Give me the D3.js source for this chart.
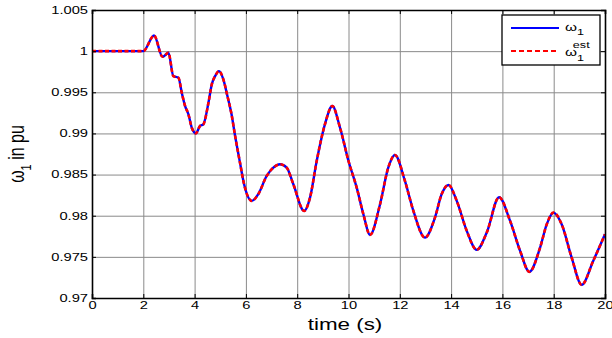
<!DOCTYPE html>
<html><head><meta charset="utf-8">
<script src="https://cdn.jsdelivr.net/npm/d3@7"></script>
<style>
html,body{margin:0;padding:0;background:#fff;}
svg{display:block;}
text{font-family:"Liberation Sans",Arial,sans-serif;fill:#000;}
</style></head>
<body>
<svg id="chart" width="612" height="338"></svg>
<script>
// ---- data ----
const time = [0, 2.0, 2.42, 2.75, 2.98, 3.17, 3.37, 3.5, 3.63, 3.76, 3.89, 4.05, 4.21, 4.34, 4.54, 4.67, 4.8, 4.95, 5.12, 5.28, 5.44, 5.58, 5.77, 5.93, 6.23, 6.48, 6.81, 7.07, 7.33, 7.59, 7.85, 8.27, 8.5, 8.76, 9.08, 9.37, 9.67, 10.0, 10.32, 10.58, 10.84, 11.23, 11.55, 11.81, 12.2, 12.53, 12.98, 13.37, 13.63, 13.9, 14.22, 14.61, 15.0, 15.39, 15.87, 16.3, 16.69, 17.05, 17.47, 17.73, 17.99, 18.31, 18.7, 19.09, 19.54, 20.0];
const omega1 = [1.0, 1.0, 1.0019, 0.99931, 0.9998, 0.99697, 0.99676, 0.99494, 0.99333, 0.99232, 0.99069, 0.99001, 0.9909, 0.9911, 0.99373, 0.99596, 0.99697, 0.99757, 0.99657, 0.99454, 0.99232, 0.98968, 0.98644, 0.98382, 0.9818, 0.98261, 0.98483, 0.98584, 0.98625, 0.98584, 0.98382, 0.98058, 0.9822, 0.98665, 0.9911, 0.99333, 0.99069, 0.98665, 0.98341, 0.98018, 0.97767, 0.9814, 0.98584, 0.98738, 0.98422, 0.98058, 0.97734, 0.97977, 0.98261, 0.98374, 0.9818, 0.97816, 0.97585, 0.97795, 0.98225, 0.97937, 0.97573, 0.97318, 0.97613, 0.97897, 0.98038, 0.97897, 0.97492, 0.9716, 0.97451, 0.97775];
const omega1Est = [1.0, 1.0, 1.0019, 0.99931, 0.9998, 0.99697, 0.99676, 0.99494, 0.99333, 0.99232, 0.99069, 0.99001, 0.9909, 0.9911, 0.99373, 0.99596, 0.99697, 0.99757, 0.99657, 0.99454, 0.99232, 0.98968, 0.98644, 0.98382, 0.9818, 0.98261, 0.98483, 0.98584, 0.98625, 0.98584, 0.98382, 0.98058, 0.9822, 0.98665, 0.9911, 0.99333, 0.99069, 0.98665, 0.98341, 0.98018, 0.97767, 0.9814, 0.98584, 0.98738, 0.98422, 0.98058, 0.97734, 0.97977, 0.98261, 0.98374, 0.9818, 0.97816, 0.97585, 0.97795, 0.98225, 0.97937, 0.97573, 0.97318, 0.97613, 0.97897, 0.98038, 0.97897, 0.97492, 0.9716, 0.97451, 0.97775];
const xTicks = [0, 2, 4, 6, 8, 10, 12, 14, 16, 18, 20];
const xTickLabels = ["0", "2", "4", "6", "8", "10", "12", "14", "16", "18", "20"];
const yTicks = [0.97, 0.975, 0.98, 0.985, 0.99, 0.995, 1.0, 1.005];
const yTickLabels = ["0.97", "0.975", "0.98", "0.985", "0.99", "0.995", "1", "1.005"];
const xLabel = "time (s)";

// ---- layout ----
const SX = 1.4; // horizontal text stretch seen in the reference
const L = 92, R = 605, T = 10, B = 298;
const svg = d3.select("#chart");
const x = d3.scaleLinear().domain([0, 20]).range([L, R]);
const y = d3.scaleLinear().domain([0.97, 1.005]).range([B, T]);

// grid
const grid = svg.append("g");
grid.append("g").attr("transform", `translate(0,${B})`)
  .call(d3.axisBottom(x).tickValues(xTicks).tickSize(-(B - T)).tickFormat(""))
  .call(g => g.select(".domain").remove())
  .selectAll("line").attr("stroke", "#8a8a8a").attr("stroke-width", 1);
grid.append("g").attr("transform", `translate(${L},0)`)
  .call(d3.axisLeft(y).tickValues(yTicks).tickSize(-(R - L)).tickFormat(""))
  .call(g => g.select(".domain").remove())
  .selectAll("line").attr("stroke", "#8a8a8a").attr("stroke-width", 1);

// lines
const pts1 = time.map((t, i) => [t, omega1[i]]);
const pts2 = time.map((t, i) => [t, omega1Est[i]]);
const line = d3.line().x(d => x(d[0])).y(d => y(d[1])).curve(d3.curveMonotoneX);
svg.append("path").attr("d", line(pts1)).attr("fill", "none")
  .attr("stroke", "#0000ff").attr("stroke-width", 2.4);
svg.append("path").attr("d", line(pts2)).attr("fill", "none")
  .attr("stroke", "#ff0000").attr("stroke-width", 2.6).attr("stroke-dasharray", "4,2.5");

// axes (inward ticks, box)
function stretchTexts(g) {
  g.selectAll("text").each(function () {
    const t = d3.select(this);
    const xx = +t.attr("x") || 0;
    t.attr("x", xx / SX).attr("transform", `scale(${SX},1)`);
  });
}
const axB = svg.append("g").attr("transform", `translate(0,${B})`)
  .call(d3.axisBottom(x).tickValues(xTicks).tickSize(-4).tickPadding(4)
    .tickFormat((d, i) => xTickLabels[i]));
const axL = svg.append("g").attr("transform", `translate(${L},0)`)
  .call(d3.axisLeft(y).tickValues(yTicks).tickSize(-4).tickPadding(4)
    .tickFormat((d, i) => yTickLabels[i]));
const axT = svg.append("g").attr("transform", `translate(0,${T})`)
  .call(d3.axisTop(x).tickValues(xTicks).tickSize(-4).tickFormat(""));
const axR = svg.append("g").attr("transform", `translate(${R},0)`)
  .call(d3.axisRight(y).tickValues(yTicks).tickSize(-4).tickFormat(""));
[axB, axL, axT, axR].forEach(g => {
  g.selectAll("text").style("font-family", '"Liberation Sans",Arial,sans-serif').style("font-size", "10.5px").attr("fill", "#000");
  g.selectAll("line").attr("stroke", "#000");
  g.select(".domain").attr("stroke", "#000").attr("stroke-width", 1.6);
});
stretchTexts(axB); stretchTexts(axL);

// axis labels
svg.append("text").attr("transform", `translate(345,330) scale(${SX},1)`)
  .attr("text-anchor", "middle").style("font-size", "16px").text(xLabel);
const yl = svg.append("text").attr("transform", `translate(24,154) scale(${SX},1) rotate(-90)`)
  .attr("text-anchor", "middle").style("font-size", "16px");
yl.append("tspan").text("ω");
yl.append("tspan").attr("dy", 5).style("font-size", "11px").text("1");
yl.append("tspan").attr("dy", -5).text(" in pu");

// legend
const lg = svg.append("g");
lg.append("rect").attr("x", 502).attr("y", 15).attr("width", 98).attr("height", 50)
  .attr("fill", "#fff").attr("stroke", "#000").attr("stroke-width", 1.3);
lg.append("line").attr("x1", 511).attr("x2", 559).attr("y1", 28).attr("y2", 28)
  .attr("stroke", "#0000ff").attr("stroke-width", 2);
lg.append("line").attr("x1", 511).attr("x2", 559).attr("y1", 51).attr("y2", 51)
  .attr("stroke", "#ff0000").attr("stroke-width", 2).attr("stroke-dasharray", "5,3");
const t1 = lg.append("text").attr("transform", `translate(565,30.5) scale(${SX},1)`).style("font-size", "11px");
t1.append("tspan").text("ω");
t1.append("tspan").attr("dy", 4).style("font-size", "9px").text("1");
const t2 = lg.append("text").attr("transform", `translate(565,56) scale(${SX},1)`).style("font-size", "11px");
t2.append("tspan").text("ω");
t2.append("tspan").attr("dy", 4.5).style("font-size", "9px").text("1");
t2.append("tspan").attr("x", 5.6).attr("dy", -12.5).style("font-size", "9px").text("est");
</script>
</body></html>
